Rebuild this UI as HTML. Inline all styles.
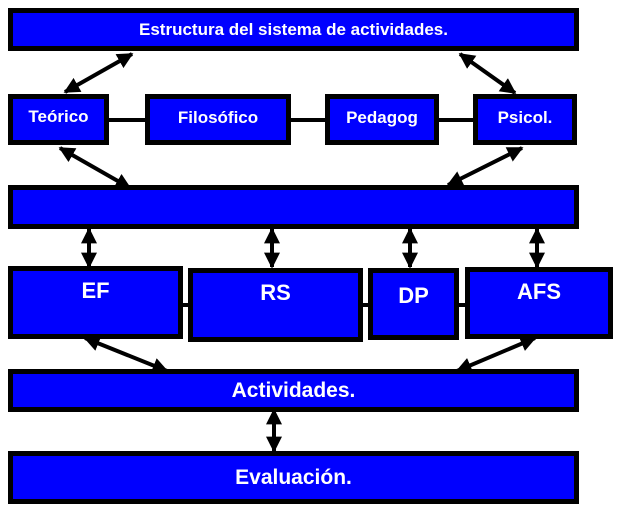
<!DOCTYPE html>
<html><head><style>
body{margin:0;background:#fff;}
.b{position:absolute;background:#0000ff;border:5px solid #000;box-sizing:border-box;color:#fff;font-family:"Liberation Sans",sans-serif;font-weight:bold;text-align:center;}
</style></head><body>
<div style="position:relative;width:618px;height:511px;overflow:hidden">
<svg width="618" height="511" style="position:absolute;left:0;top:0">
<defs><marker id="a" viewBox="0 0 10 10" refX="9" refY="5" markerWidth="4" markerHeight="4" orient="auto-start-reverse"><path d="M0,0L10,5L0,10z" fill="#000"/></marker></defs>
<g stroke="#000" stroke-width="4">
<line x1="105" y1="120" x2="148" y2="120"/><line x1="288" y1="120" x2="328" y2="120"/><line x1="436" y1="120" x2="476" y2="120"/>
<line x1="180" y1="305" x2="192" y2="305"/><line x1="360" y1="305" x2="370" y2="305"/><line x1="456" y1="305" x2="468" y2="305"/>
<g marker-start="url(#a)" marker-end="url(#a)">
<line x1="132" y1="54" x2="65" y2="92"/><line x1="460" y1="54" x2="515" y2="93"/>
<line x1="60" y1="148" x2="130" y2="188"/><line x1="522" y1="148" x2="448" y2="185"/>
<line x1="89" y1="229" x2="89" y2="267"/><line x1="272" y1="229" x2="272" y2="267"/><line x1="410" y1="229" x2="410" y2="267"/><line x1="537" y1="229" x2="537" y2="267"/>
<line x1="85" y1="338" x2="167" y2="371"/><line x1="535" y1="338" x2="457" y2="371"/>
<line x1="274" y1="410" x2="274" y2="451"/>
</g></g></svg>
<div class="b" style="left:8px;top:8px;width:571px;height:43px;font-size:17px;line-height:34px">Estructura del sistema de actividades.</div>
<div class="b" style="left:8px;top:94px;width:101px;height:51px;font-size:17px;line-height:35px">Teórico</div>
<div class="b" style="left:145px;top:94px;width:146px;height:51px;font-size:17px;line-height:37px">Filosófico</div>
<div class="b" style="left:325px;top:94px;width:114px;height:51px;font-size:17px;line-height:37px">Pedagog</div>
<div class="b" style="left:473px;top:94px;width:104px;height:51px;font-size:17px;line-height:37px">Psicol.</div>
<div class="b" style="left:8px;top:185px;width:571px;height:44px"></div>
<div class="b" style="left:8px;top:266px;width:175px;height:73px;font-size:22px;line-height:40px">EF</div>
<div class="b" style="left:188px;top:268px;width:175px;height:74px;font-size:22px;line-height:40px">RS</div>
<div class="b" style="left:368px;top:268px;width:91px;height:72px;font-size:22px;line-height:45px">DP</div>
<div class="b" style="left:465px;top:267px;width:148px;height:72px;font-size:22px;line-height:40px">AFS</div>
<div class="b" style="left:8px;top:369px;width:571px;height:43px;font-size:21px;line-height:34px">Actividades.</div>
<div class="b" style="left:8px;top:451px;width:571px;height:53px;font-size:21px;line-height:44px">Evaluación.</div>
</div>
</body></html>
